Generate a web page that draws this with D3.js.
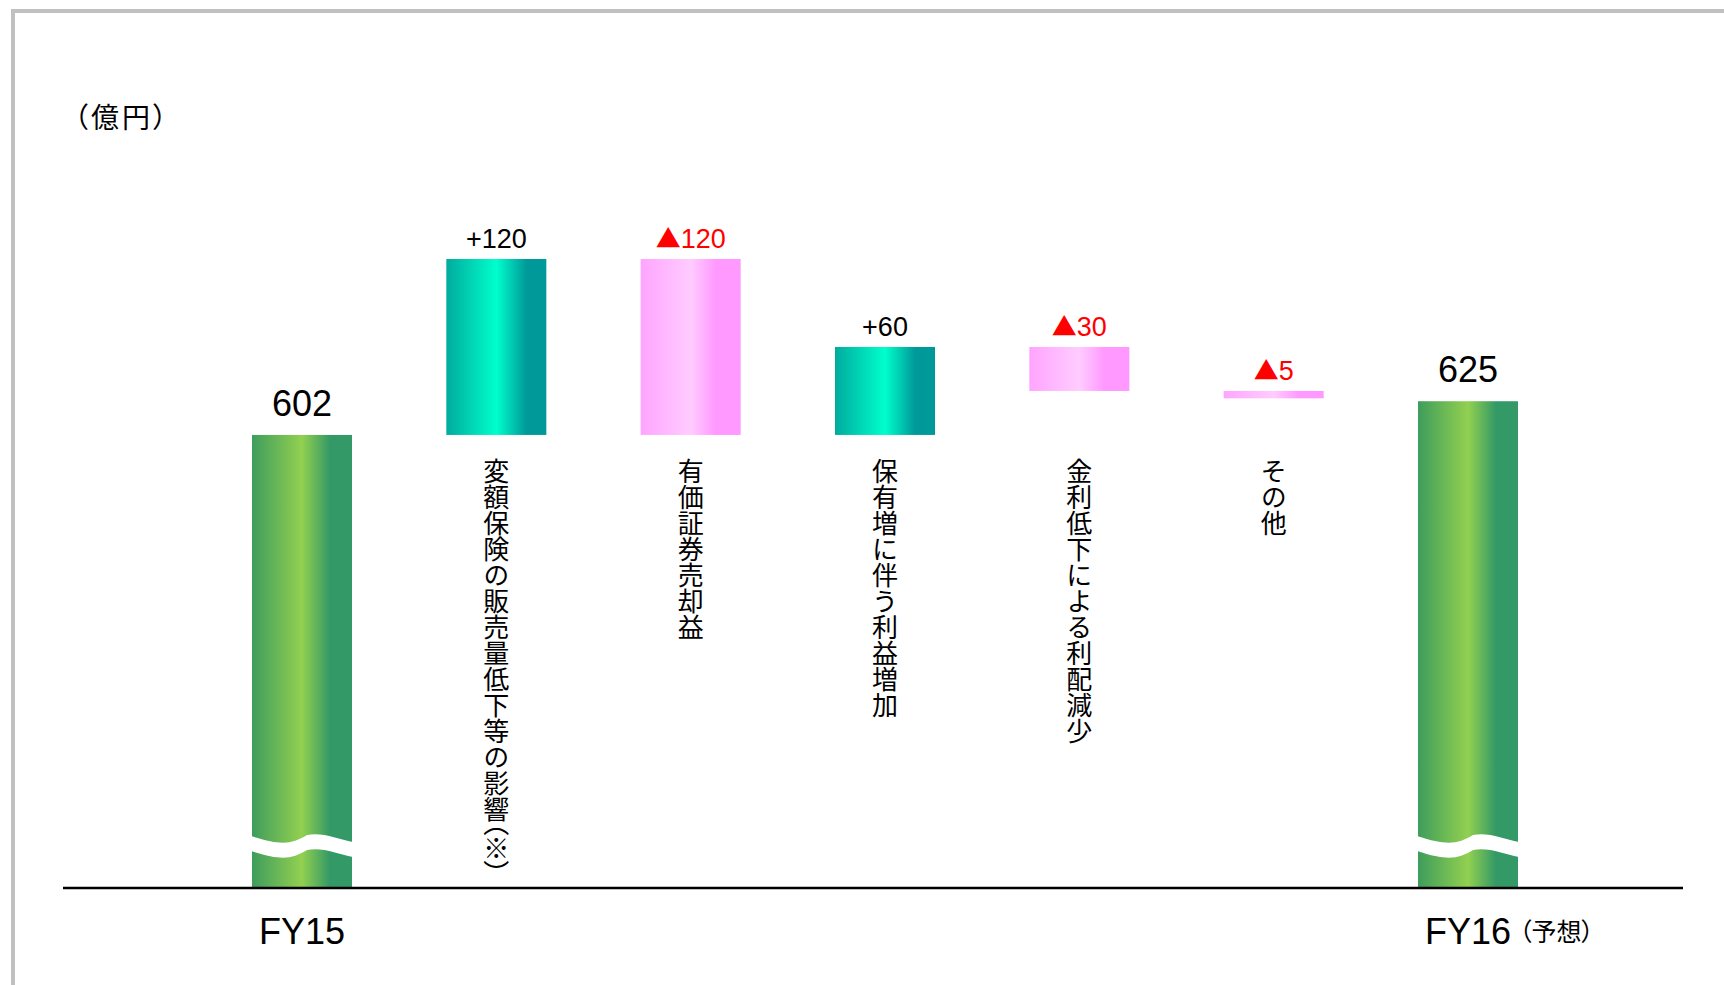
<!DOCTYPE html>
<html lang="ja">
<head>
<meta charset="utf-8">
<script src="https://cdn.jsdelivr.net/npm/d3@7"></script>
<style>
  html, body { margin: 0; padding: 0; background: #fff; }
  svg { display: block; }
  .num { font-family: "Liberation Sans", Arial, "Noto Sans CJK JP", sans-serif; }
  .tri { font-family: "Noto Sans CJK JP", sans-serif; }
  .jp { font-family: "Noto Sans CJK JP", sans-serif; font-feature-settings: "palt"; }
  .vlabel { font-family: "Noto Sans CJK JP", sans-serif; writing-mode: vertical-rl; }
  .vpal { font-feature-settings: "vpal"; }
</style>
</head>
<body>
<script>
// Waterfall of profit change FY15 -> FY16 (forecast), in 億円
const categories = [
  "FY15",
  "変額保険の販売量低下等の影響（※）",
  "有価証券売却益",
  "保有増に伴う利益増加",
  "金利低下による利配減少",
  "その他",
  "FY16"
];
const values = [602, 120, -120, 60, -30, -5, 625];
const kinds = ["total", "delta", "delta", "delta", "delta", "delta", "total"];
const axisLabels = ["FY15", "", "", "", "", "", "FY16"];
const axisNote = "（予想）";
const unitLabel = "（億円）";
// lowest value visible above the broken baseline
const brokenFloor = 293;

const W = 1724, H = 985;
const baseY = 888;
const barW = 100;

// running totals for the floating bars
let running = 0;
const bars = categories.map((c, i) => {
  const v = values[i];
  let lo, hi;
  if (kinds[i] === "total") {
    running = v;
    lo = brokenFloor; hi = v;
  } else {
    const start = running;
    running = start + v;
    lo = Math.min(start, running); hi = Math.max(start, running);
  }
  return { key: c, value: v, kind: kinds[i], lo, hi, idx: i };
});

const x = d3.scalePoint().domain(categories).range([302, 1468]);
const y = d3.scaleLinear().domain([brokenFloor, 722]).range([baseY, 259]);

const svg = d3.select("body").append("svg")
  .attr("width", W).attr("height", H);

// gradients
const defs = svg.append("defs");
function grad(id, stops) {
  const g = defs.append("linearGradient").attr("id", id)
    .attr("x1", 0).attr("x2", 1).attr("y1", 0).attr("y2", 0);
  stops.forEach(([o, c]) => g.append("stop").attr("offset", o).attr("stop-color", c));
}
grad("gTotal", [[0, "#3e9d5c"], [0.5, "#92d050"], [0.78, "#339966"], [1, "#339966"]]);
grad("gUp", [[0, "#00ab9e"], [0.5, "#00ffcc"], [0.8, "#009999"], [1, "#009999"]]);
grad("gDown", [[0, "#ffa4ff"], [0.5, "#ffccff"], [0.75, "#ff99ff"], [1, "#ff99ff"]]);

// frame
svg.append("path")
  .attr("d", `M13,${H} V11 H${W}`)
  .attr("fill", "none").attr("stroke", "#c0c0c0").attr("stroke-width", 4);

// unit label
svg.append("text").attr("class", "jp")
  .attr("x", 74).attr("y", 128)
  .attr("font-size", 28).attr("letter-spacing", 3).attr("fill", "#000")
  .text(unitLabel);

// bars
const fillFor = d => d.kind === "total" ? "url(#gTotal)" : (d.value >= 0 ? "url(#gUp)" : "url(#gDown)");
svg.append("g").selectAll("rect").data(bars).join("rect")
  .attr("x", d => x(d.key) - barW / 2)
  .attr("y", d => y(d.hi))
  .attr("width", barW)
  .attr("height", d => d.kind === "total" ? baseY - y(d.hi) : y(d.lo) - y(d.hi))
  .attr("fill", fillFor);

// wavy break across the total bars
const breakY = 836;
svg.append("g").selectAll("path").data(bars.filter(d => d.kind === "total")).join("path")
  .attr("fill", "#fff")
  .attr("d", d => {
    const x0 = x(d.key) - barW / 2 - 1, x1 = x(d.key) + barW / 2 + 1;
    const w = x1 - x0, t = 15;
    const top = `M${x0},${breakY} C${x0 + w * 0.3},${breakY + 10} ${x0 + w * 0.4},${breakY + 8} ${x0 + w * 0.55},${breakY - 1} ` +
      `C${x0 + w * 0.7},${breakY - 4} ${x0 + w * 0.85},${breakY + 3} ${x1},${breakY + 6}`;
    const bot = `L${x1},${breakY + 6 + t} C${x0 + w * 0.85},${breakY + 3 + t} ${x0 + w * 0.7},${breakY - 4 + t} ${x0 + w * 0.55},${breakY - 1 + t} ` +
      `C${x0 + w * 0.4},${breakY + 8 + t} ${x0 + w * 0.3},${breakY + 10 + t} ${x0},${breakY + t} Z`;
    return top + bot;
  });

// baseline
svg.append("line")
  .attr("x1", 63).attr("x2", 1683)
  .attr("y1", baseY).attr("y2", baseY)
  .attr("stroke", "#000").attr("stroke-width", 2.5);

// value labels: totals plain, increases with "+", decreases with a red "▲"
const labels = svg.append("g").selectAll("text").data(bars).join("text")
  .attr("class", "num")
  .attr("x", d => x(d.key))
  .attr("y", d => y(d.hi) - (d.kind === "total" ? 19 : 11))
  .attr("text-anchor", "middle")
  .attr("font-size", d => d.kind === "total" ? 36 : 27)
  .attr("fill", d => d.kind === "delta" && d.value < 0 ? "#ff0000" : "#000");
labels.each(function (d) {
  const t = d3.select(this);
  if (d.kind === "total") {
    t.text(String(d.value));
  } else if (d.value >= 0) {
    t.text("+" + d.value);
  } else {
    t.append("tspan").attr("class", "tri").attr("font-size", 25).text("▲");
    t.append("tspan").text(Math.abs(d.value));
  }
});

// vertical category labels under the change bars
const vlab = svg.append("g").selectAll("text").data(bars.filter(d => d.kind === "delta")).join("text")
  .attr("class", "vlabel")
  .attr("x", d => x(d.key))
  .attr("y", 458)
  .attr("font-size", 26)
  .attr("fill", "#000");
vlab.each(function (d) {
  const t = d3.select(this);
  // split so the brackets can use proportional vertical widths
  d.key.split(/([（）])/).filter(s => s.length).forEach(s => {
    const sp = t.append("tspan").text(s);
    if (s === "（" || s === "）") sp.attr("class", "vpal");
  });
});

// axis labels
svg.append("g").selectAll("text").data(bars.filter((d, i) => axisLabels[i])).join("text")
  .attr("class", "num")
  .attr("x", d => x(d.key))
  .attr("y", 944)
  .attr("text-anchor", "middle")
  .attr("font-size", 36)
  .attr("fill", "#000")
  .text(d => axisLabels[d.idx]);

svg.append("text").attr("class", "jp")
  .attr("x", x("FY16") + 51).attr("y", 941)
  .attr("font-size", 25).attr("fill", "#000")
  .text(axisNote);
</script>
</body>
</html>
